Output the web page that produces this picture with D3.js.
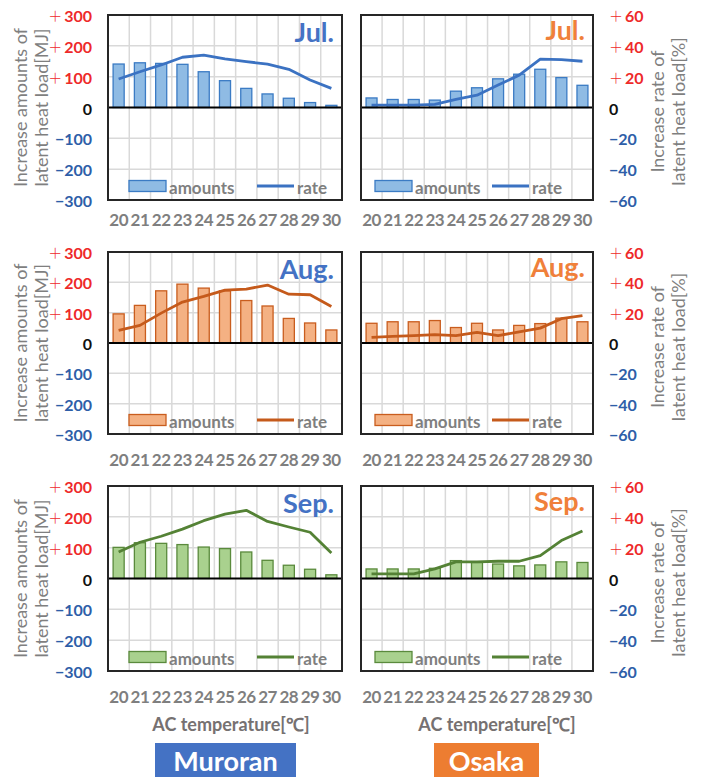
<!DOCTYPE html>
<html>
<head>
<meta charset="utf-8">
<script src="https://cdn.jsdelivr.net/npm/d3@7"></script>
<style>
  html, body { margin: 0; padding: 0; background: #fff; }
  svg { display: block; font-family: Lato, "Open Sans", sans-serif; }
</style>
</head>
<body>
<svg id="chart" width="702" height="780"></svg>
<script>
// AC set-point temperatures (°C)
const temps = [20, 21, 22, 23, 24, 25, 26, 27, 28, 29, 30];

// Increase amounts of latent heat load [MJ] and increase rate [%]
const muroranJulAmounts = [141, 145, 143, 140, 116, 87, 62, 44, 30, 16, 7];
const muroranJulRate    = [18.5, 23.2, 27.6, 32.6, 34.0, 31.5, 29.7, 28.2, 24.8, 17.8, 12.4];
const osakaJulAmounts   = [31, 26, 26, 24, 53, 64, 93, 108, 124, 97, 72];
const osakaJulRate      = [1.5, 1.5, 1.5, 2.0, 5.3, 8.0, 14.6, 21.0, 31.4, 31.0, 30.0];

const muroranAugAmounts = [96, 124, 172, 194, 181, 172, 140, 122, 81, 66, 43];
const muroranAugRate    = [8.3, 11.6, 19.7, 27.0, 30.7, 34.9, 35.5, 38.2, 32.2, 31.8, 24.1];
const osakaAugAmounts   = [65, 70, 70, 74, 51, 65, 43, 58, 64, 82, 70];
const osakaAugRate      = [3.7, 4.4, 4.8, 5.5, 4.8, 7.0, 4.8, 7.4, 9.8, 16.0, 18.1];

const muroranSepAmounts = [101, 116, 114, 110, 102, 97, 86, 59, 43, 30, 12];
const muroranSepRate    = [17.2, 23.5, 27.4, 32.0, 37.5, 41.8, 44.2, 37.0, 33.4, 30.0, 16.6];
const osakaSepAmounts   = [31, 31, 31, 33, 58, 52, 47, 41, 44, 54, 52];
const osakaSepRate      = [3.0, 3.0, 3.0, 6.2, 10.8, 10.8, 11.2, 11.2, 14.9, 24.6, 30.8];

// Axis ticks
const amountTicks = [300, 200, 100, 0, -100, -200, -300];
const rateTicks   = [60, 40, 20, 0, -20, -40, -60];

const months = ["Jul.", "Aug.", "Sep."];
const cities = ["Muroran", "Osaka"];

// Series palette per month
const monthStyle = [
  { fill: "#8fbbe4", stroke: "#3b7bc4", line: "#3b72c2" },
  { fill: "#f4b183", stroke: "#c95d1e", line: "#c55a1b" },
  { fill: "#a9d18e", stroke: "#5a8a3c", line: "#548235" }
];
const cityColor = ["#4472c4", "#f0803a"];
const badgeColor = ["#4472c4", "#ed7d31"];

const panels = [
  [muroranJulAmounts, muroranJulRate, osakaJulAmounts, osakaJulRate],
  [muroranAugAmounts, muroranAugRate, osakaAugAmounts, osakaAugRate],
  [muroranSepAmounts, muroranSepRate, osakaSepAmounts, osakaSepRate]
];

// Layout
const cols = [
  { x0: 108, x1: 342, legRect: 21, legLine: 149, monthDy: 27 },
  { x0: 361, x1: 593, legRect: 14, legLine: 131, monthDy: 25 }
];
const rows = [
  { y0: 15,  y1: 200, labelY: 226 },
  { y0: 252, y1: 434, labelY: 466 },
  { y0: 486, y1: 671, labelY: 703 }
];

const svg = d3.select("#chart");
const gray = "#7f7f7f";
const gridColor = "#d9d9d9";

// Signed tick label: thin full-width plus, bold number
function tickLabel(sel, v) {
  if (v > 0) {
    sel.attr("fill", "#ee2a2a");
    sel.append("tspan")
      .attr("font-family", "'Noto Sans CJK JP', sans-serif")
      .attr("font-weight", 300).attr("font-size", 14).text("\uFF0B");
    sel.append("tspan").attr("dx", 2).text(String(v));
  } else if (v < 0) {
    sel.attr("fill", "#2e5ea8");
    sel.append("tspan").text("\u2212" + Math.abs(v));
  } else {
    sel.attr("fill", "#111");
    sel.append("tspan").text("0");
  }
}

rows.forEach((r, ri) => {
  cols.forEach((c, ci) => {
    const amounts = panels[ri][ci * 2];
    const rate = panels[ri][ci * 2 + 1];
    const st = monthStyle[ri];

    const x = d3.scaleBand().domain(temps).range([c.x0, c.x1]).padding(0);
    const yA = d3.scaleLinear().domain([-300, 300]).range([r.y1, r.y0]);
    const yR = d3.scaleLinear().domain([-60, 60]).range([r.y1, r.y0]);

    const g = svg.append("g");

    // grid
    g.selectAll(".hg").data(amountTicks.filter(v => v !== 0 && Math.abs(v) !== 300))
      .join("line")
      .attr("x1", c.x0).attr("x2", c.x1)
      .attr("y1", d => yA(d)).attr("y2", d => yA(d))
      .attr("stroke", gridColor).attr("stroke-width", 1.5);
    g.selectAll(".vg").data(temps.slice(1))
      .join("line")
      .attr("x1", d => x(d)).attr("x2", d => x(d))
      .attr("y1", r.y0).attr("y2", r.y1)
      .attr("stroke", gridColor).attr("stroke-width", 1.5);

    // bars
    const bw = x.bandwidth() * 0.52;
    g.selectAll(".bar").data(amounts)
      .join("rect")
      .attr("x", (d, i) => x(temps[i]) + (x.bandwidth() - bw) / 2)
      .attr("width", bw)
      .attr("y", d => yA(Math.max(0, d)))
      .attr("height", d => Math.abs(yA(d) - yA(0)))
      .attr("fill", st.fill).attr("stroke", st.stroke).attr("stroke-width", 1.3);

    // rate line
    const line = d3.line()
      .x((d, i) => x(temps[i]) + x.bandwidth() / 2)
      .y(d => yR(d));
    g.append("path").datum(rate)
      .attr("d", line)
      .attr("fill", "none").attr("stroke", st.line)
      .attr("stroke-width", 2.8).attr("stroke-linejoin", "round");

    // zero line
    g.append("line")
      .attr("x1", c.x0).attr("x2", c.x1)
      .attr("y1", yA(0)).attr("y2", yA(0))
      .attr("stroke", "#000").attr("stroke-width", 2);

    // frame
    g.append("rect")
      .attr("x", c.x0).attr("y", r.y0)
      .attr("width", c.x1 - c.x0).attr("height", r.y1 - r.y0)
      .attr("fill", "none").attr("stroke", "#262626").attr("stroke-width", 2);

    // month label
    g.append("text")
      .attr("x", c.x1 - 8).attr("y", r.y0 + c.monthDy)
      .attr("text-anchor", "end")
      .attr("font-size", 27).attr("font-weight", 700)
      .attr("fill", cityColor[ci])
      .text(months[ri]);

    // legend
    const ly = r.y1 - 14;
    g.append("rect")
      .attr("x", c.x0 + c.legRect).attr("y", ly - 5.5)
      .attr("width", 37).attr("height", 11)
      .attr("fill", st.fill).attr("stroke", st.stroke).attr("stroke-width", 1.3);
    g.append("text")
      .attr("x", c.x0 + c.legRect + 40).attr("y", ly + 1)
      .attr("dominant-baseline", "central")
      .attr("font-size", 17).attr("font-weight", 700).attr("fill", gray)
      .text("amounts");
    g.append("line")
      .attr("x1", c.x0 + c.legLine).attr("x2", c.x0 + c.legLine + 37)
      .attr("y1", ly).attr("y2", ly)
      .attr("stroke", st.line).attr("stroke-width", 2.8);
    g.append("text")
      .attr("x", c.x0 + c.legLine + 40).attr("y", ly + 1)
      .attr("dominant-baseline", "central")
      .attr("font-size", 17).attr("font-weight", 700).attr("fill", gray)
      .text("rate");

    // x tick labels
    g.selectAll(".xt").data(temps)
      .join("text")
      .attr("x", d => x(d) + x.bandwidth() / 2)
      .attr("y", r.labelY)
      .attr("text-anchor", "middle")
      .attr("font-size", 17).attr("font-weight", 700).attr("fill", gray)
      .attr("letter-spacing", -0.5)
      .text(d => d);

    // y tick labels and titles
    if (ci === 0) {
      amountTicks.forEach(v => {
        const t = g.append("text")
          .attr("x", 92).attr("y", yA(v))
          .attr("text-anchor", "end").attr("dominant-baseline", "central")
          .attr("font-size", 16).attr("font-weight", 700);
        tickLabel(t, v);
      });
      const cy = yA(0);
      [["Increase amounts of", 20], ["latent heat load[MJ]", 41]].forEach(([txt, tx]) => {
        g.append("text")
          .attr("transform", `translate(${tx},${cy}) rotate(-90)`)
          .attr("text-anchor", "middle").attr("dominant-baseline", "central")
          .attr("font-size", 18).attr("fill", gray)
          .text(txt);
      });
    } else {
      rateTicks.forEach(v => {
        const t = g.append("text")
          .attr("x", 609).attr("y", yR(v))
          .attr("text-anchor", "start").attr("dominant-baseline", "central")
          .attr("font-size", 16).attr("font-weight", 700);
        tickLabel(t, v);
      });
      const cy = yR(0) + 4;
      [["Increase rate of", 657], ["latent heat load[%]", 678]].forEach(([txt, tx]) => {
        g.append("text")
          .attr("transform", `translate(${tx},${cy}) rotate(-90)`)
          .attr("text-anchor", "middle").attr("dominant-baseline", "central")
          .attr("font-size", 18).attr("fill", gray)
          .text(txt);
      });
    }
  });
});

// x-axis titles and city badges
const badges = [
  { x0: 155, x1: 296, tx: 231 },
  { x0: 434, x1: 539, tx: 497 }
];
badges.forEach((b, i) => {
  svg.append("text")
    .attr("x", b.tx).attr("y", 731)
    .attr("text-anchor", "middle")
    .attr("font-size", 18).attr("font-weight", 700).attr("fill", "#767171")
    .text("AC temperature[\u2103]");
  svg.append("rect")
    .attr("x", b.x0).attr("y", 743)
    .attr("width", b.x1 - b.x0).attr("height", 34)
    .attr("fill", badgeColor[i]);
  svg.append("text")
    .attr("x", (b.x0 + b.x1) / 2).attr("y", 760)
    .attr("text-anchor", "middle").attr("dominant-baseline", "central")
    .attr("font-size", 27).attr("font-weight", 700).attr("fill", "#fff")
    .text(cities[i]);
});
</script>
</body>
</html>
